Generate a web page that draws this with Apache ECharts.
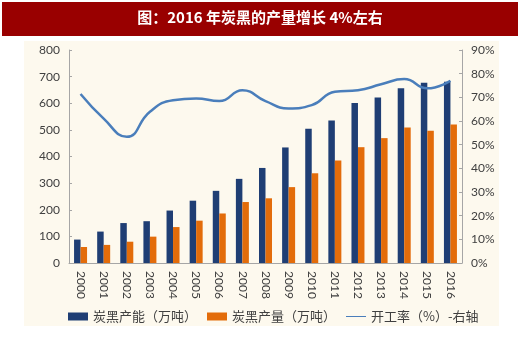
<!DOCTYPE html>
<html><head><meta charset="utf-8">
<script src="https://cdn.jsdelivr.net/npm/echarts@6/dist/echarts.min.js"></script>
<style>html,body{margin:0;padding:0;background:#fff;}#c{width:520px;height:346px;}</style>
</head><body><div id="c"></div>
<script>
var years = ['2000','2001','2002','2003','2004','2005','2006','2007','2008','2009','2010','2011','2012','2013','2014','2015','2016'];
var capacity = [88,118,150,157,197,234,271,316,357,434,504,535,601,622,656,677,681];
var output = [60,68,80,99,135,159,186,229,243,285,337,385,435,469,509,497,520];
var rate = [71.4,61,53.3,63.9,68.8,69.5,68.4,73,68.4,65.3,66.7,72.4,73,75.5,77.7,73.8,77];
var leftTicks = [0,100,200,300,400,500,600,700,800];

var chart = echarts.init(document.getElementById('c'));
var axisFont = {color:'#404040', fontSize:12, fontFamily:'Lato, "DejaVu Sans", sans-serif'};
chart.setOption({
  animation:false,
  backgroundColor:'#ffffff',
  graphic:[
    {type:'rect', shape:{x:2,y:2,width:516,height:34}, style:{fill:'#990000'}, z:-10},
    {type:'rect', shape:{x:24,y:41,width:475,height:285}, style:{fill:'#fdf9ee'}, z:-10},
    {type:'text', left:'center', top:10, style:{text:'图：2016 年炭黑的产量增长 4%左右', fill:'#ffffff', font:'bold 15px "Noto Sans CJK SC", sans-serif'}}
  ],
  grid:{left:69, right:58, top:50, bottom:83},
  legend:{
    bottom:18, left:63, itemWidth:20, itemHeight:8, itemGap:10,
    textStyle:{color:'#404040', fontSize:13, fontFamily:'"Noto Sans CJK SC", sans-serif'},
    data:[
      {name:'炭黑产能（万吨）', icon:'rect'},
      {name:'炭黑产量（万吨）', icon:'rect'},
      {name:'开工率（%）-右轴', icon:'path://M0,4.5L20,4.5L20,5.5L0,5.5Z'}
    ]
  },
  xAxis:{
    type:'category', data:years,
    axisLine:{lineStyle:{color:'#a6a6a6'}},
    axisTick:{inside:true, length:3, lineStyle:{color:'#a6a6a6'}},
    axisLabel:Object.assign({rotate:-90, margin:8, interval:0}, axisFont)
  },
  yAxis:[
    {type:'value', min:0, max:800, interval:100,
     axisLine:{show:true, lineStyle:{color:'#a6a6a6'}},
     axisTick:{show:true, inside:true, length:3, lineStyle:{color:'#a6a6a6'}},
     splitLine:{show:false},
     axisLabel:Object.assign({margin:9}, axisFont)},
    {type:'value', min:0, max:90, interval:10,
     axisLine:{show:true, lineStyle:{color:'#a6a6a6'}},
     axisTick:{show:true, inside:true, length:3, lineStyle:{color:'#a6a6a6'}},
     splitLine:{show:false},
     axisLabel:Object.assign({margin:9, formatter:'{value}%'}, axisFont)}
  ],
  series:[
    {name:'炭黑产能（万吨）', type:'bar', data:capacity, barWidth:6.5, barGap:'0%', itemStyle:{color:'#1f3e74'}},
    {name:'炭黑产量（万吨）', type:'bar', data:output, barWidth:6.5, itemStyle:{color:'#e36c0a'}},
    {name:'开工率（%）-右轴', type:'line', yAxisIndex:1, data:rate, smooth:0.5, symbol:'none',
     lineStyle:{color:'#4a7ebb', width:2.5}, itemStyle:{color:'#4a7ebb'}}
  ]
});
</script></body></html>
